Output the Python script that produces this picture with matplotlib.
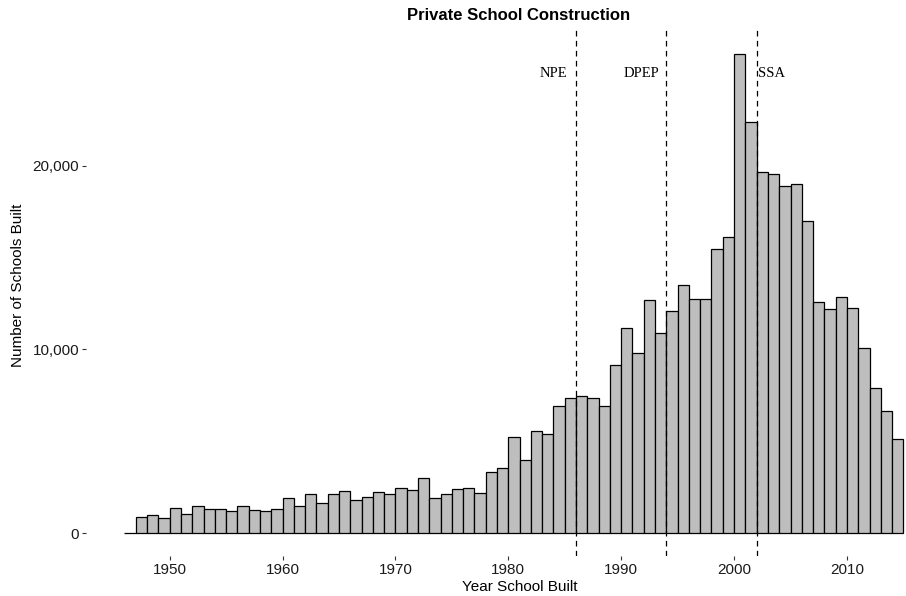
import matplotlib
matplotlib.use("Agg")
import matplotlib.pyplot as plt
from matplotlib.ticker import FuncFormatter

# Schools built per year (bin left edge = year)
years = list(range(1946, 2015))
schools_built = [
    0, 870, 960, 820, 1340, 1010, 1490, 1290, 1320, 1200,
    1450, 1250, 1200, 1310, 1920, 1470, 2120, 1630, 2100, 2300,
    1810, 1980, 2260, 2110, 2450, 2340, 3000, 1910, 2130, 2370,
    2450, 2200, 3310, 3540, 5230, 4000, 5560, 5380, 6940, 7340,
    7450, 7360, 6900, 9160, 11140, 9810, 12700, 10900, 12100, 13480,
    12750, 12750, 15460, 16130, 26070, 22380, 19670, 19530, 18910, 19020,
    16990, 12590, 12190, 12860, 12270, 10100, 7890, 6630, 5120,
]

# Policy milestones
policy_years = [1986, 1994, 2002]
policy_labels = ["NPE", "DPEP", "SSA"]

x_ticks = [1950, 1960, 1970, 1980, 1990, 2000, 2010]
y_ticks = [0, 10000, 20000]

W, H = 906, 596
fig = plt.figure(figsize=(W / 100, H / 100), dpi=100)

left_px, right_px, top_px, bottom_px = 86, 906, 30, 556
ax = fig.add_axes([left_px / W, 1 - bottom_px / H,
                   (right_px - left_px) / W, (bottom_px - top_px) / H])

ax.bar(years, schools_built, width=1.0, align="edge",
       color="#BEBEBE", edgecolor="black", linewidth=0.9)

for yr in policy_years:
    ax.axvline(yr, color="black", linewidth=0.9, linestyle=(0, (4.5, 3.5)))

label_font = dict(family="Liberation Serif", fontsize=10.5, va="center")
ax.text(policy_years[0] - 0.8, 25000, policy_labels[0], ha="right", **label_font)
ax.text(policy_years[1] - 0.65, 25000, policy_labels[1], ha="right", **label_font)
ax.text(policy_years[2] + 0.1, 25000, policy_labels[2], ha="left", **label_font)

ax.set_xlim(1942.59, 2015.23)
ax.set_ylim(-1252, 27389)

ax.set_xticks(x_ticks)
ax.set_yticks(y_ticks)
ax.yaxis.set_major_formatter(FuncFormatter(lambda v, p: f"{int(v):,}"))

for s in ax.spines.values():
    s.set_visible(False)

ax.tick_params(axis="both", length=3, width=0.8, color="#333333",
               labelsize=11, labelcolor="#1a1a1a", pad=2)
for lab in ax.get_xticklabels() + ax.get_yticklabels():
    lab.set_family("Liberation Sans")

fig.text(519 / W, 1 - 16 / H, "Private School Construction",
         family="Liberation Sans", fontweight="bold", fontsize=12,
         ha="center", va="center")
fig.text(520 / W, 1 - 587 / H, "Year School Built",
         family="Liberation Sans", fontsize=11, ha="center", va="center")
fig.text(18 / W, 1 - 285 / H, "Number of Schools Built",
         family="Liberation Sans", fontsize=11, rotation=90,
         ha="center", va="center")

fig.savefig("out.png", dpi=100)
